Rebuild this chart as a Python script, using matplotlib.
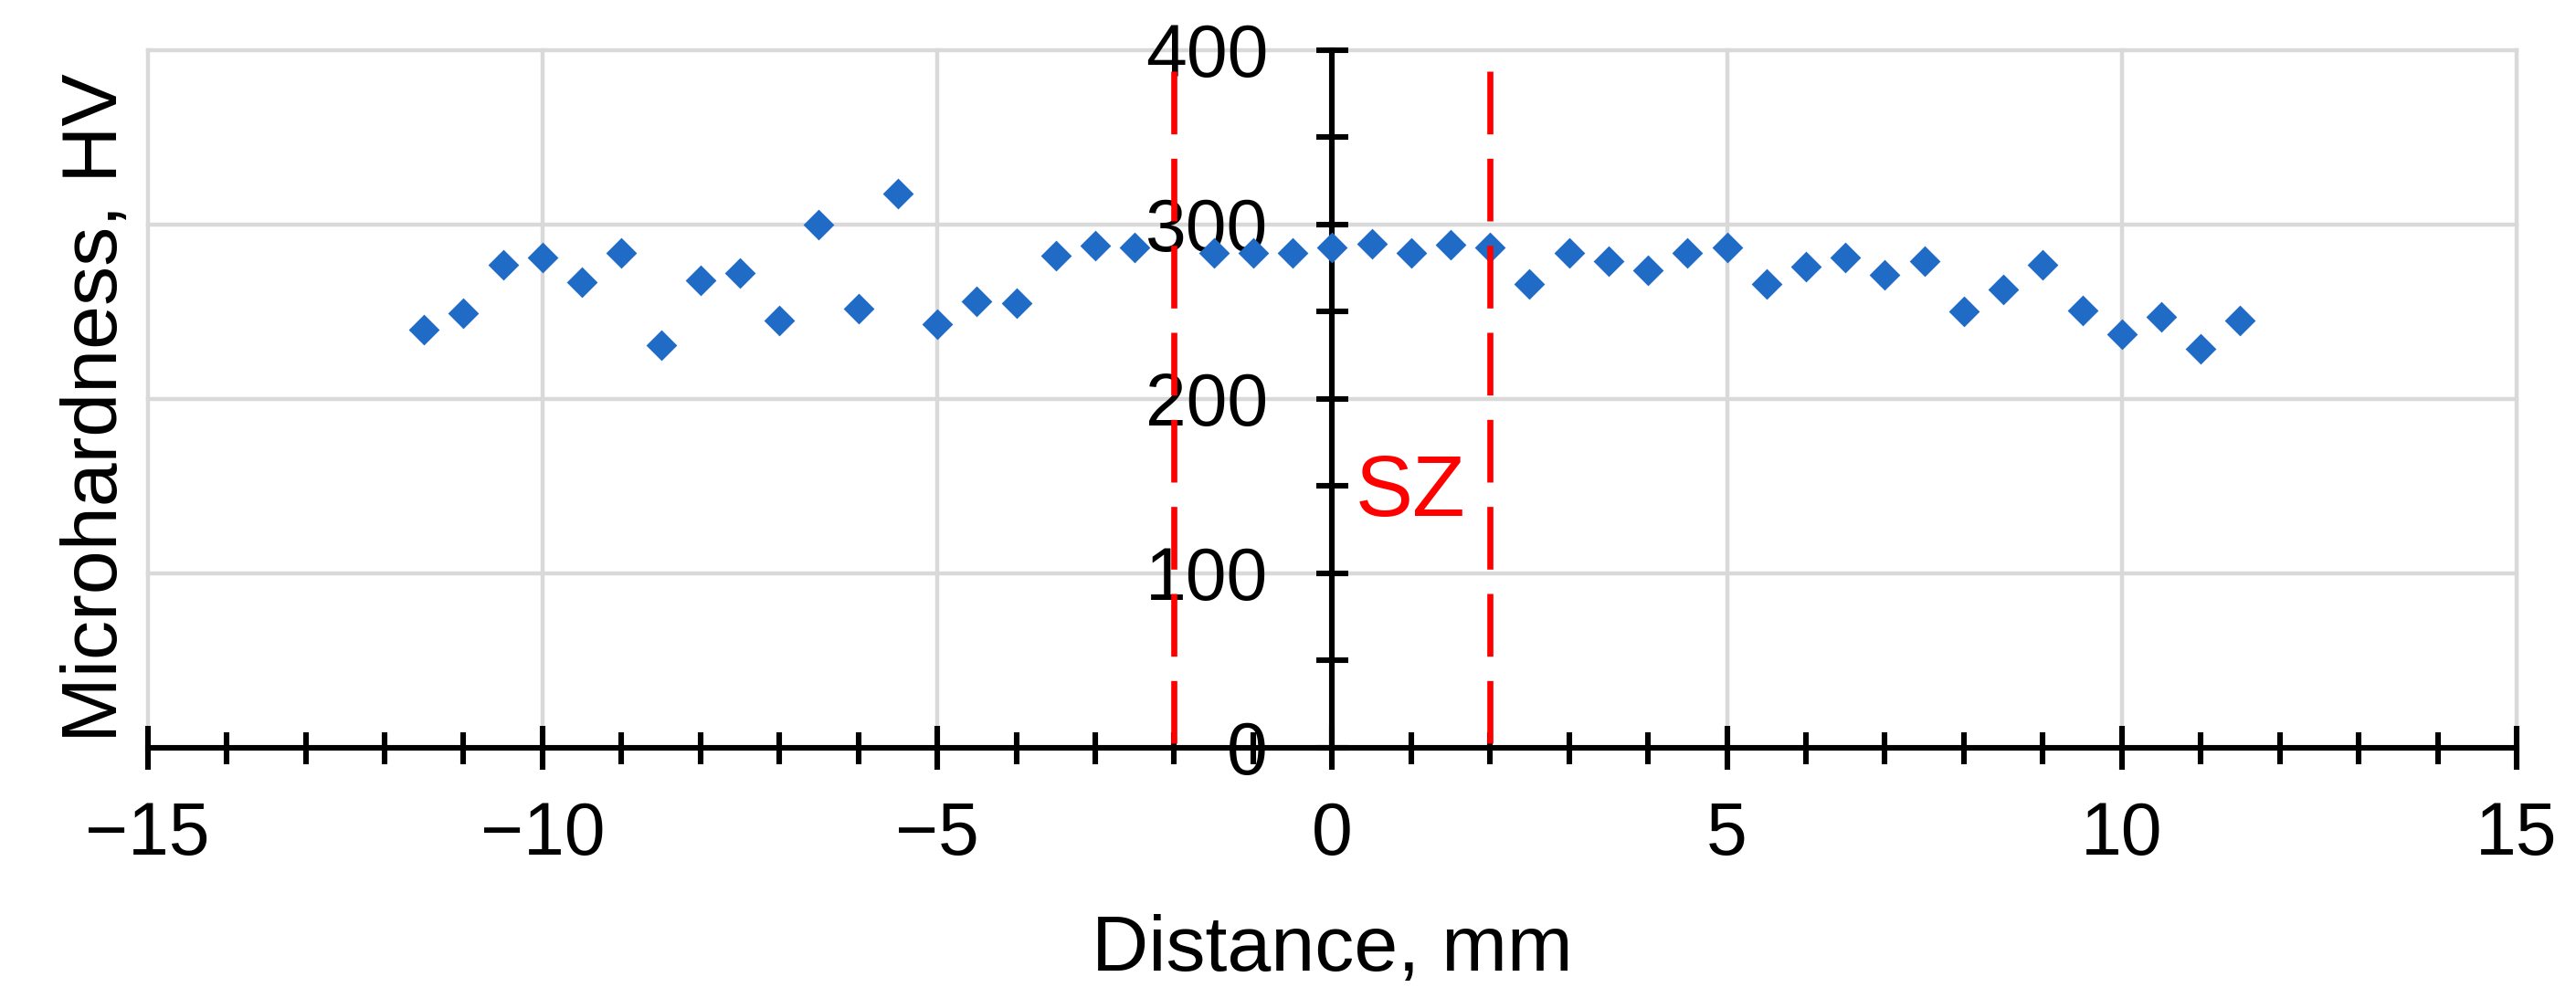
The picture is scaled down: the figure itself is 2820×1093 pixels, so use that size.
import matplotlib
matplotlib.use("Agg")
import matplotlib.pyplot as plt
from matplotlib.ticker import MultipleLocator

plt.rcParams['font.family'] = ['Liberation Sans', 'DejaVu Sans']

# measured points (distance from weld centre, mm / hardness, HV)
distance = [-11.5, -11, -10.5, -10, -9.5, -9, -8.5, -8, -7.5, -7, -6.5, -6,
            -5.5, -5, -4.5, -4, -3.5, -3, -2.5,
            -1.5, -1, -0.5, 0, 0.5, 1, 1.5, 2, 2.5, 3, 3.5, 4, 4.5, 5, 5.5,
            6, 6.5, 7, 7.5, 8, 8.5, 9, 9.5, 10, 10.5, 11, 11.5]
hardness = [240, 249, 277, 281, 267, 284, 231, 268, 272, 245, 300, 252,
            318, 243, 256, 255, 282, 288, 287,
            284, 284, 284, 287, 289, 284, 288.5, 287, 266, 284, 279, 274, 284, 287, 266,
            276, 281, 271, 279, 250, 263, 277, 251, 237, 247, 229, 245]

# stir zone boundaries
sz_bounds = [-2, 2]
sz_top = 388
sz_label = "SZ"

fig = plt.figure(figsize=(14.1, 5.465), dpi=200)
ax = fig.add_axes([0.05734, 0.25069, 0.91961, 0.69900])

ax.set_xlim(-15, 15)
ax.set_ylim(0, 400)

ax.scatter(distance, hardness, marker='D', s=8.6 ** 2, color='#1f6bc6',
           linewidths=0, zorder=3)

for xb in sz_bounds:
    ax.plot([xb, xb], [sz_top, 0], color='#ff0000', lw=2.4,
            dashes=(10.3, 4.0), zorder=4)
ax.text(0.99, 133, sz_label, color='#ff0000', fontsize=34,
        ha='center', va='baseline', zorder=4)

# axes: y axis crosses at x = 0
ax.spines['top'].set_visible(False)
ax.spines['right'].set_visible(False)
ax.spines['left'].set_position(('data', 0))
for sp in ('left', 'bottom'):
    ax.spines[sp].set_linewidth(2.2)
    ax.spines[sp].set_zorder(2.6)

ax.xaxis.set_major_locator(MultipleLocator(5))
ax.xaxis.set_minor_locator(MultipleLocator(1))
ax.yaxis.set_major_locator(MultipleLocator(100))
ax.yaxis.set_minor_locator(MultipleLocator(50))

ax.tick_params(axis='x', which='major', direction='inout', length=17, width=2.2,
               labelsize=29, pad=12.4)
ax.tick_params(axis='x', which='minor', direction='inout', length=12.6, width=2.2)
ax.tick_params(axis='y', which='both', direction='inout', length=12.6, width=2.2)
ax.tick_params(axis='y', which='major', labelsize=29, pad=19)

ax.grid(True, which='major', color='#d9d9d9', lw=1.6)
ax.set_axisbelow(True)
for t in ax.xaxis.get_major_ticks() + ax.yaxis.get_major_ticks():
    t.gridline.set_clip_on(False)

ax.set_xlabel('Distance, mm', fontsize=31, va='baseline')
ax.xaxis.set_label_coords(0.5, -0.3198)
ax.set_ylabel('Microhardness, HV', fontsize=31)
ax.yaxis.label.set_va('baseline')
ax.yaxis.set_label_coords(-0.013, 0.4876)

fig.savefig('out.png', dpi=200)
